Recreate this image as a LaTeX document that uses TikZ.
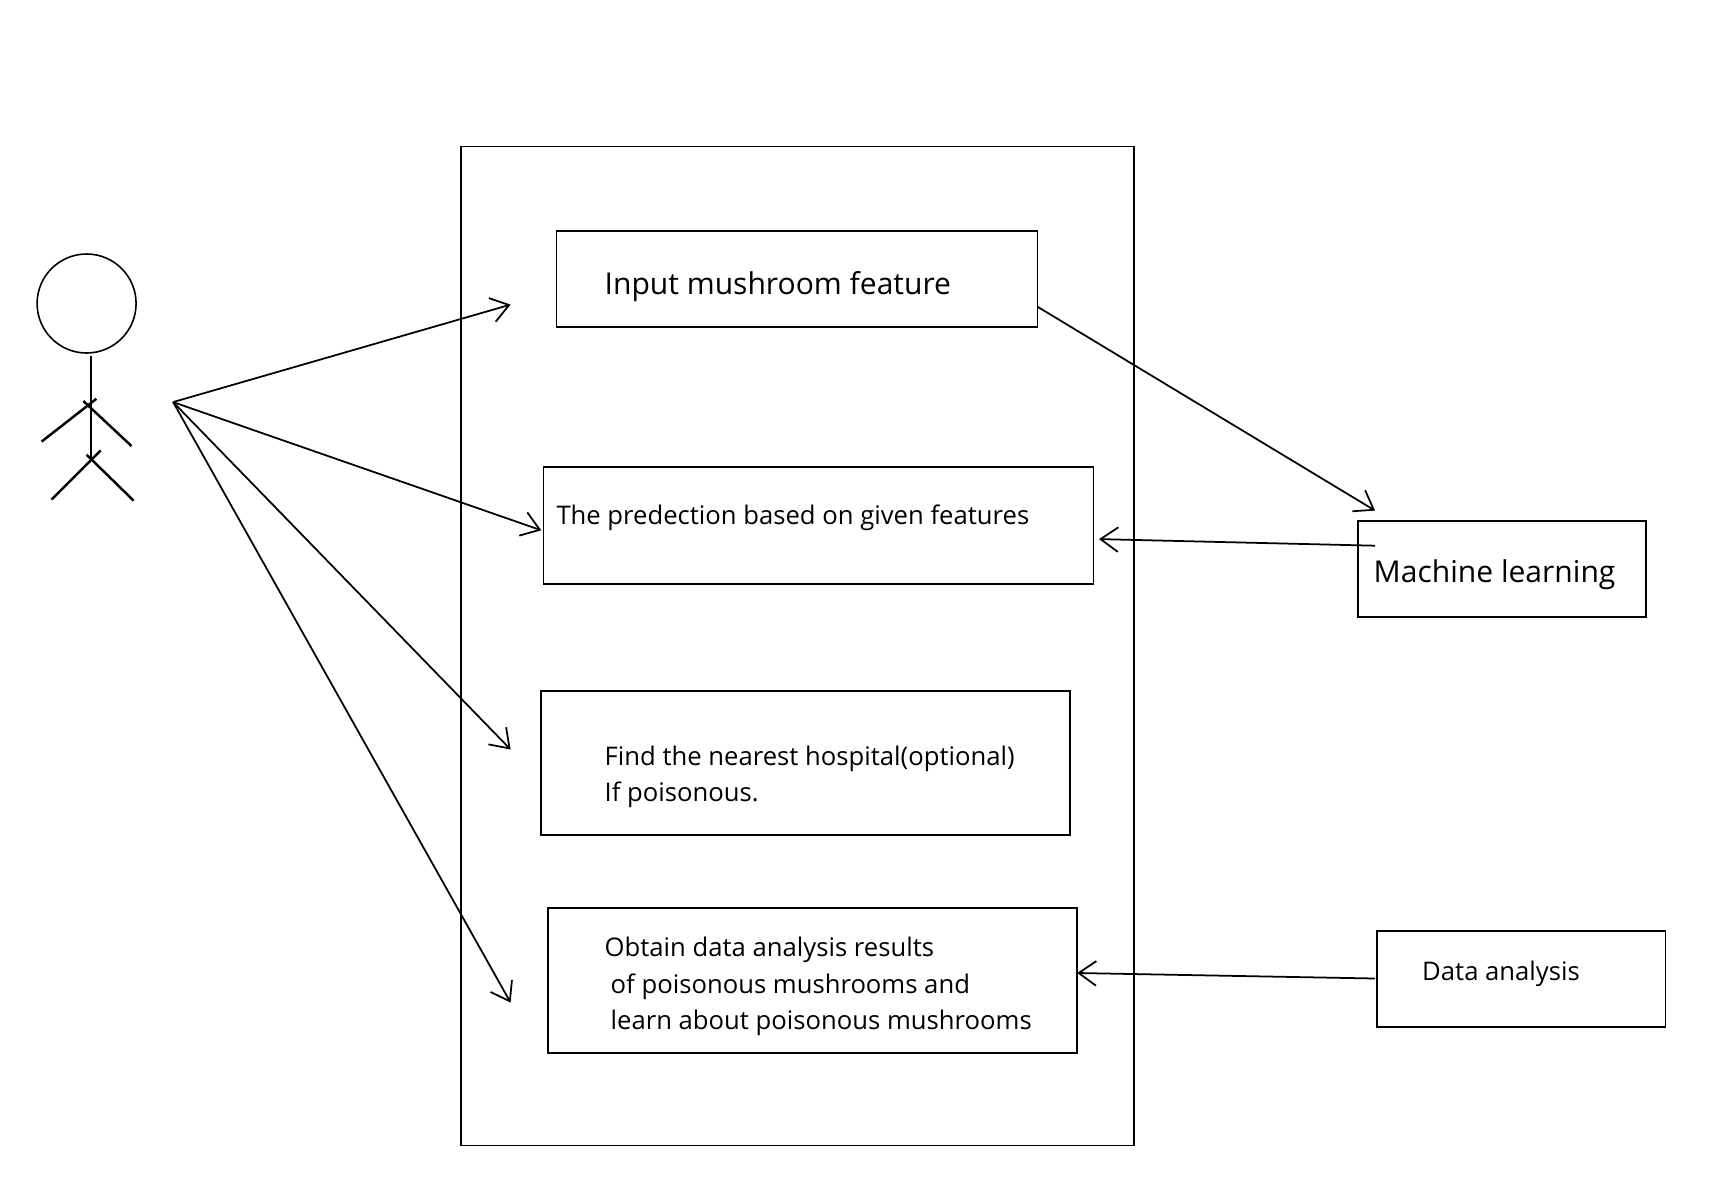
\documentclass[tikz,border=0pt]{standalone}
\usepackage{fontspec}
\setmainfont{Open Sans}
\usetikzlibrary{arrows.meta}
\tikzset{
  boxnode/.style={draw, rectangle, line width=0.55pt, inner sep=0pt},
  bigtext/.style={inner sep=0pt, anchor=base west, font=\fontsize{8.55}{10}\selectfont},
  smalltext/.style={inner sep=0pt, align=left, font=\fontsize{7.3}{10.3}\selectfont},
  openarrow/.style={line width=0.5pt, -{Straight Barb[length=5pt,width=7pt]}},
  stick/.style={line width=0.7pt}
}
\begin{document}
\begin{tikzpicture}
\useasboundingbox (0,0) rectangle (17.18,11.94);
% Frame
\node[boxnode, minimum width=6.73cm, minimum height=9.99cm] (system) at (7.975,5.48) {};
% Boxes
\node[boxnode, minimum width=4.81cm, minimum height=0.955cm] (input) at (7.97,9.15) {};
\node[boxnode, minimum width=5.50cm, minimum height=1.17cm] (prediction) at (8.185,6.683) {};
\node[boxnode, minimum width=5.29cm, minimum height=1.435cm] (hospital) at (8.053,4.308) {};
\node[boxnode, minimum width=5.29cm, minimum height=1.447cm] (results) at (8.125,2.137) {};
\node[boxnode, minimum width=2.88cm, minimum height=0.953cm] (learning) at (15.016,6.25) {};
\node[boxnode, minimum width=2.885cm, minimum height=0.965cm] (analysis) at (15.212,2.148) {};
% Texts
\node[bigtext] (inputtext) at (6.04,8.999) {Input mushroom feature};
\node[smalltext, anchor=base west] (predictiontext) at (5.558,6.695) {The predection based on given features};
\node[smalltext, anchor=west] (hospitaltext) at (6.04,4.17) {Find the nearest hospital(optional)\\If poisonous.};
\node[smalltext, anchor=west] (resultstext) at (6.04,2.075) {Obtain data analysis results\\\hspace{0.06cm}of poisonous mushrooms and\\\hspace{0.06cm}learn about poisonous mushrooms};
\node[bigtext] (learningtext) at (13.73,6.112) {Machine learning};
\node[smalltext, anchor=base west] (analysistext) at (14.215,2.132) {Data analysis};
% Stick figure
\node[draw, circle, line width=0.45pt, minimum size=0.99cm, inner sep=0pt] (head) at (0.866,8.905) {};
\coordinate (neck) at (0.909,8.38);
\coordinate (hip) at (0.909,7.34);
\coordinate (armA) at (0.416,7.524);
\coordinate (armB) at (0.964,7.952);
\coordinate (armC) at (0.833,7.93);
\coordinate (armD) at (1.315,7.48);
\coordinate (legA) at (0.515,6.944);
\coordinate (legB) at (1.008,7.437);
\coordinate (legC) at (0.866,7.393);
\coordinate (legD) at (1.337,6.933);
\draw[stick] (neck) -- (hip);
\draw[stick] (armA) -- (armB);
\draw[stick] (armC) -- (armD);
\draw[stick] (legA) -- (legB);
\draw[stick] (legC) -- (legD);
% Arrows
\coordinate (hand) at (1.731,7.919);
\coordinate (toinput) at (5.106,8.894);
\coordinate (toprediction) at (5.413,6.637);
\coordinate (tohospital) at (5.106,4.445);
\coordinate (toresults) at (5.106,1.914);
\coordinate (inputout) at (10.376,8.872);
\coordinate (tolearning) at (13.751,6.834);
\coordinate (learningout) at (13.751,6.483);
\coordinate (backprediction) at (10.99,6.549);
\coordinate (analysisout) at (13.751,2.155);
\coordinate (backresults) at (10.771,2.21);
\draw[openarrow] (hand) -- (toinput);
\draw[openarrow] (hand) -- (toprediction);
\draw[openarrow] (hand) -- (tohospital);
\draw[openarrow] (hand) -- (toresults);
\draw[openarrow] (inputout) -- (tolearning);
\draw[openarrow] (learningout) -- (backprediction);
\draw[openarrow] (analysisout) -- (backresults);
\end{tikzpicture}
\end{document}
